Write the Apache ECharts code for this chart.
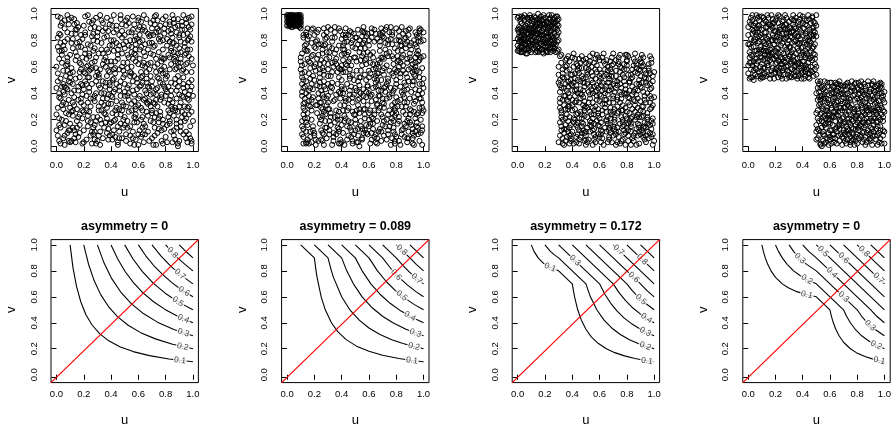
<!DOCTYPE html>
<html><head><meta charset="utf-8">
<script src="https://cdn.jsdelivr.net/npm/echarts@6/dist/echarts.min.js"></script>
<style>html,body{margin:0;padding:0;background:#fff}#c{width:894px;height:428px}</style>
</head><body><div id="c"></div>
<script>
// ---------------- DATA ----------------
const tickValues = [0, 0.2, 0.4, 0.6, 0.8, 1.0];
const panelTitles = ['asymmetry = 0', 'asymmetry = 0.089', 'asymmetry = 0.172', 'asymmetry = 0'];
const xName = 'u', yName = 'v';

// scatter samples, (u, v) in percent units
const sample1Pct = [
[3,97],[15,88],[27,72],[44,91],[58,83],[71,95],[86,78],[93,99],[8,64],[21,55],[36,67],[49,52],[63,61],[77,58],[91,66],[5,41],[18,33],[31,46],[47,38],[62,29],
[74,44],[88,36],[97,48],[2,21],[13,12],[25,18],[39,8],[54,15],[68,4],[82,22],[95,11],[10,3],[33,27],[57,34],[79,13],[99,2],[6,79],[24,94],[41,76],[60,97],
[73,86],[89,91],[12,47],[29,59],[52,69],[66,51],[84,62],[98,73],[4,31],[17,24],[35,14],[50,22],[69,39],[85,28],[1,8],[22,5],[45,3],[61,12],[80,7],[94,19],
[9,92],[19,81],[32,99],[46,84],[55,71],[70,89],[83,94],[96,85],[14,71],[26,63],[38,57],[53,46],[65,68],[78,73],[92,57],[7,53],[20,43],[34,36],[48,27],[59,43],
[72,32],[87,47],[100,38],[11,26],[28,16],[42,19],[56,6],[67,23],[81,16],[90,4],[3,14],[16,7],[37,21],[51,9],[64,17],[76,26],[96,29],[0,60],[23,77],[43,64],
[57,92],[75,81],[85,99],[99,92],[13,96],[30,86],[40,95],[62,75],[79,66],[94,75],[6,45],[19,39],[39,43],[54,56],[68,34],[84,42],[97,24],[10,17],[27,9],[46,11],
[60,1],[74,10],[88,14],[2,37],[15,28],[33,33],[49,31],[63,48],[81,53],[93,44],[8,86],[24,68],[42,80],[58,64],[71,75],[89,70],[4,69],[18,58],[31,52],[44,47],
[66,40],[77,37],[91,33],[12,81],[28,90],[37,73],[51,79],[69,93],[82,87],[97,81],[1,98],[21,98],[36,89],[55,86],[72,98],[86,66],[99,56],[7,25],[25,30],[41,25],
[53,35],[70,27],[83,19],[95,6],[11,4],[29,2],[47,17],[65,9],[78,2],[92,26],[5,76],[17,63],[34,62],[52,59],[67,62],[80,55],[96,63],[14,51],[29,40],[43,55],
[59,51],[73,56],[87,51],[0,44],[20,12],[38,5],[55,27],[71,18],[86,8],[98,15],[9,35],[23,23],[40,32],[58,21],[74,30],[90,39],[3,2],[15,19],[32,11],[48,6],
[64,3],[79,33],[93,52],[6,89],[16,75],[30,79],[45,69],[61,84],[76,91],[90,84],[11,59],[26,47],[43,43],[57,39],[70,49],[84,48],[98,42],[2,72],[19,67],[35,82],
[50,74],[63,88],[78,80],[94,69],[8,10],[22,38],[37,29],[52,14],[66,26],[82,32],[96,36],[13,42],[31,54],[49,63],[62,56],[77,64],[88,59],[4,93],[26,83],[39,92],
[56,98],[68,83],[81,76],[95,96],[10,69],[24,57],[41,50],[56,49],[73,43],[87,29],[1,29],[17,16],[34,6],[47,24],[60,31],[75,21],[91,18],[5,6],[22,27],[38,39],
[53,40],[69,53],[84,72],[99,79],[12,33],[27,36],[44,34],[59,18],[72,14],[85,3],[97,9],[7,61],[21,73],[36,60],[51,91],[65,77],[80,98],[92,91],[15,93],[33,95],
[48,87],[64,71],[77,67],[91,79],[3,51],[18,47],[32,44],[46,58],[61,66],[76,48],[89,45],[100,19],[9,12],[25,8],[42,12],[57,1],[70,6],[83,25],[94,30],[6,39],
[20,31],[35,25],[50,38],[65,42],[80,38],[95,56],[11,78],[28,74],[40,64],[54,80],[69,70],[85,82],[98,88],[2,85],[16,90],[34,70],[47,96],[62,94],[75,87],[89,96],
[10,48],[23,61],[39,48],[55,60],[68,58],[83,58],[97,68],[4,20],[19,2],[33,17],[49,20],[63,14],[77,4],[91,11],[7,32],[24,41],[37,36],[53,26],[67,32],[82,45],
[93,37],[14,65],[29,67],[45,73],[58,77],[73,66],[86,71],[100,61],[1,75],[18,84],[31,89],[48,82],[64,90],[79,85],[94,88],[8,99],[26,93],[42,99],[60,88],[74,95],
[87,90],[12,23],[27,14],[43,7],[56,11],[71,1],[84,11],[96,3],[5,47],[21,49],[37,53],[52,44],[66,48],[81,41],[93,47],[10,55],[25,58],[40,61],[57,53],[72,60],
[87,64],[99,50],[3,84],[15,78],[33,78],[48,70],[61,73],[76,79],[90,74],[6,16],[19,21],[36,24],[51,30],[63,22],[78,17],[92,22],[13,37],[28,34],[42,41],[60,36],
[73,39],[88,42],[0,12],[17,10],[30,4],[45,15],[62,7],[75,13],[89,2],[8,57],[24,52],[38,71],[53,67],[67,73],[82,69],[95,62],[11,97],[29,97],[44,88],[59,81],
[71,84],[84,88],[97,97],[4,63],[20,56],[34,49],[50,54],[64,63],[79,60],[91,63],[2,40],[16,35],[31,30],[46,42],[61,45],[76,35],[94,41],[9,24],[23,19],[40,18],
[54,8],[69,19],[86,23],[99,26],[14,85],[27,80],[42,86],[57,70],[72,92],[86,93],[6,73],[22,66],[39,76],[53,76],[67,85],[83,79],[96,73],[13,6],[26,11],[46,28],
[58,24],[72,22],[88,17],[1,55],[17,52],[32,58],[47,49],[62,52],[75,51],[89,53],[8,43],[24,44],[39,46],[56,42],[70,45],[83,35],[97,30],[3,91],[21,86],[37,83],
[52,97],[66,96],[80,92],[93,84],[12,14],[30,22],[43,20],[58,28],[73,25],[87,27],[5,28],[20,26],[35,40],[50,47],[65,36],[78,47],[90,49],[9,4],[28,5],[41,9],
[2,4],[14,9],[26,2],[38,13],[51,4],[63,9],[77,12],[89,0],[98,6],[7,19],[19,27],[32,20],[44,29],[57,18],[70,25],[82,27],[94,24],[3,36],[16,42],[28,38],
[41,37],[55,32],[68,44],[80,43],[92,38],[9,49],[22,47],[36,45],[50,41],[62,46],[74,52],[87,58],[99,45],[5,57],[18,62],[30,56],[43,59],[56,66],[69,63],[83,67],
[95,70],[12,74],[24,70],[37,64],[49,77],[61,79],[75,71],[88,76],[1,82],[14,88],[27,85],[40,80],[53,93],[65,87],[79,89],[92,94],[6,95],[20,91],[34,93],[47,99],
[60,95],[73,99],[86,96],[97,90],[10,29],[23,33],[35,31],[48,33],[61,38],[73,35],[85,33],[97,39],[4,45],[17,56],[29,49],[42,51],[54,53],[66,56],[78,55],[90,60],
[8,67],[21,70],[33,73],[46,76],[58,73],[71,69],[84,74],[99,66],[11,85],[25,89],[38,87],[50,84],[63,80],[76,83],[90,82],[2,16],[15,14],[27,22],[39,17],[52,19],
[65,15],[78,20],[91,15],[6,8],[20,3],[31,8],[45,1],[58,5],[72,8],[86,12],[99,4],[13,31],[25,36],[38,32],[52,38],[64,35],[77,39],[90,30],[1,49],[16,45],
[29,53],[42,58],[55,55],[67,45],[80,51],[93,58],[8,62],[22,60],[35,65],[48,60],[60,62],[74,62],[87,68],[3,78],[17,79],[30,83],[44,78],[57,80],[70,78],[84,85],
[96,80],[9,96],[23,99],[37,97],[51,95],[64,99],[78,96],[92,88],[11,40],[24,26],[36,18],[49,14],[62,20],[75,18],[88,20],[0,24],[14,3],[28,11],[41,5],[54,2],
[67,11],[81,3],[93,9],[7,44],[19,46],[33,40],[46,45],[59,48],[71,40],[84,38],[97,35],[12,56],[26,59],[39,56],[52,63],[65,60],[78,66],[91,71],[4,72],[18,75],
[31,70],[45,66],[58,69],[72,76],[85,78],[98,83],[13,92],[27,95],[41,91],[56,88],[69,84],[83,92],[95,93],[10,12],[23,15],[37,10],[50,16],[63,27],[76,23],[89,26],
[5,33],[18,36],[31,27],[44,24],[58,30],[71,33],[84,30],[96,45],[10,52],[23,52],[36,48],[49,57],[63,53],[76,57],[89,63],[2,66],[15,68],[28,64],[42,72],[55,75],
[68,78],[81,81],[94,78],[8,81],[21,84],[34,87],[48,92],[61,90],[74,89],[88,86],[99,98],[16,22],[29,19],[43,27],[57,22],[69,30],[83,17],[95,21],[6,1],[32,1],
[46,6],[60,9],[73,1],[87,5],[12,27],[40,38],[66,33],[79,45],[25,76],[53,86]
];

const sample2Pct = [
[1,91],[3,94],[5,97],[7,92],[9,95],[2,99],[4,92],[6,94],[8,98],[10,91],[1,96],[3,90],[5,93],[7,99],[9,92],[2,93],[4,97],[6,91],[8,94],[10,97],
[0,94],[2,96],[4,95],[6,98],[8,91],[1,99],[3,97],[5,91],[7,95],[9,98],[2,91],[4,99],[6,96],[8,93],[10,94],[1,93],[3,92],[5,95],[7,97],[9,90],
[0,97],[3,99],[5,99],[7,93],[9,96],[1,95],[4,94],[6,92],[8,96],[10,99],
[0,91],[2,92],[4,90],[6,93],[8,92],[10,93],[1,94],[3,96],[5,94],[7,96],[9,94],[0,99],[2,98],[4,96],[6,97],[8,99],[10,96],[1,97],[3,95],[5,98],[7,91],[9,99],[2,95],[6,95],[8,97],
[12,84],[25,77],[38,89],[51,82],[64,88],[77,86],[90,89],[98,79],[15,66],[29,71],[43,62],[57,74],[70,67],[84,72],[96,64],[11,52],[24,45],[37,56],[52,49],[66,55],
[80,47],[93,54],[18,35],[31,28],[46,39],[59,31],[73,36],[87,24],[99,33],[14,18],[27,9],[40,16],[55,6],[68,13],[82,4],[95,15],[21,1],[48,2],[62,22],[76,18],
[89,11],[13,73],[33,82],[47,86],[60,76],[74,80],[86,81],[97,87],[20,60],[35,64],[49,67],[63,58],[78,62],[91,59],[16,42],[30,38],[44,47],[58,41],[72,45],[85,39],
[100,44],[12,29],[26,23],[41,27],[54,19],[67,27],[81,30],[94,21],[17,7],[34,4],[50,12],[65,3],[79,9],[92,2],[23,88],[42,78],[56,90],[69,84],[83,76],[95,70],
[19,69],[32,53],[46,58],[61,63],[75,71],[88,66],[11,61],[27,49],[39,40],[53,36],[68,38],[83,52],[97,47],[15,25],[29,31],[43,21],[57,24],[71,29],[86,33],[99,25],
[14,11],[28,14],[45,8],[60,15],[73,5],[88,19],[22,80],[36,73],[52,77],[66,81],[80,89],[93,80],[13,56],[24,58],[40,69],[54,52],[69,50],[81,57],[94,63],[18,47],
[33,44],[48,33],[63,44],[77,40],[90,36],[11,38],[25,33],[38,26],[53,28],[66,19],[79,23],[91,27],[16,2],[31,12],[47,7],[62,10],[76,1],[89,6],[99,12],[20,84],
[30,90],[45,84],[58,83],[72,88],[85,85],[97,83],[14,77],[27,63],[41,73],[55,68],[68,72],[82,65],[95,75],[12,44],[23,40],[37,47],[51,42],[65,48],[78,53],[92,46],
[17,30],[32,22],[47,18],[61,27],[74,24],[87,15],[98,20],[19,15],[36,9],[51,3],[64,7],[78,14],[93,8],[26,70],[39,87],[53,80],[67,65],[79,74],[91,78],[10,89],
[21,57],[34,60],[48,54],[60,57],[73,61],[87,55],[99,59],[13,33],[28,43],[43,36],[56,43],[70,33],[84,41],[96,39],[22,25],[35,18],[49,24],[63,17],[77,31],[90,28],
[15,5],[29,6],[42,1],[57,12],[71,8],[84,12],[97,4],[18,78],[31,67],[44,79],[59,71],[72,78],[87,74],[100,68],[24,52],[41,56],[55,61],[67,46],[80,50],[94,53],
[11,19],[26,28],[39,31],[52,31],[65,35],[79,27],[93,32],[20,10],[37,14],[52,8],[66,2],[81,17],[96,9],[14,86],[28,81],[43,89],[57,86],[71,82],[84,90],[98,88],
[17,63],[31,75],[46,66],[61,69],[74,68],[88,63],[12,50],[27,54],[42,43],[58,50],[71,54],[86,48],[97,52],[19,37],[34,34],[49,39],[62,39],[76,44],[91,41],[13,27],
[28,19],[44,27],[57,21],[70,22],[85,26],[99,29],[23,4],[38,2],[54,15],[69,11],[83,1],[95,18],[16,83],[35,86],[48,75],[62,89],[77,84],[90,76],[11,70],[25,65],
[39,58],[53,71],[67,60],[81,68],[94,67],[16,55],[30,47],[46,51],[59,46],[74,49],[89,58],[14,40],[27,37],[41,40],[56,34],[69,42],[83,45],[98,36],[22,31],[36,27],
[50,20],[64,24],[78,19],[92,13],[12,13],[26,4],[41,10],[55,5],[70,16],[86,7],[99,1],[21,74],[33,79],[50,82],[64,79],[76,90],[89,84],[18,88],[30,62],[45,64],
[58,66],[72,73],[85,69],[96,72],[10,64],[24,48],[38,52],[51,57],[65,53],[79,58],[92,56],[17,44],[32,41],[47,45],[61,38],[75,37],[88,43],[13,21],[27,26],[42,23],
[55,13],[68,29],[82,22],[95,24],[20,8],[33,1],[49,9],[62,5],[77,6],[91,16],[15,72],[29,86],[42,70],[56,78],[70,86],[83,79],[96,82],[26,59],[40,61],[54,65],
[68,63],[82,60],[95,57],[11,47],[23,36],[36,39],[50,44],[64,51],[79,44],[93,49],[18,27],[31,19],[45,29],[60,25],[73,20],[87,30],[100,27],[14,2],[29,14],[44,5],
[59,9],[74,12],[88,3],[22,66],[35,70],[50,74],[63,67],[77,77],[90,70],[12,82],[27,89],[40,81],[55,87],[69,89],[82,83],[94,86],[19,53],[33,56],[47,61],[61,55],
[75,57],[88,52],[99,47],[16,34],[30,33],[45,35],[58,37],[72,41],[86,37],[97,42],[24,22],[39,20],[53,25],[66,32],[80,25],[93,26],[11,9],[25,12],[40,3],[56,10],
[69,4],[84,9],[96,14],[13,76],[26,73],[43,84],[57,80],[73,70],[87,87],[100,80],[21,62],[36,66],[49,50],[63,62],[77,55],[91,65],[10,58],[25,42],[40,45],[54,40],
[67,38],[81,34],[94,34],[15,16],[32,25],[46,14],[60,20],[75,15],[89,21],[17,11],[34,7],[48,4],[63,13],[79,2],[92,6],[23,77],[38,76],[52,88],[65,85],[80,80],
[14,3],[27,1],[39,5],[52,3],[66,6],[79,4],[93,1],[12,24],[25,20],[37,23],[50,17],[63,21],[77,21],[90,18],[16,38],[29,36],[42,31],[56,38],[70,36],[83,35],
[97,29],[11,55],[24,62],[38,59],[51,64],[65,59],[78,66],[92,62],[15,81],[28,77],[41,84],[55,77],[68,79],[82,87],[95,84],[19,12],[32,16],[45,19],[58,16],[72,15],
[86,17],[99,15],[13,45],[26,39],[40,43],[53,41],[67,42],[80,37],[94,43],[18,68],[31,71],[44,69],[57,65],[71,66],[85,61],[98,67],[22,86],[35,90],[48,80],[62,82],
[75,86],[88,79],[12,7],[25,5],[38,11],[52,13],[65,9],[78,11],[92,10],[16,31],[30,28],[43,34],[57,28],[71,32],[84,30],[97,36],[20,50],[33,48],[46,53],[60,52],
[74,51],[87,46],[100,51],[14,72],[27,76],[41,65],[54,74],[68,76],[81,72],[94,77],[19,89],[32,88],[46,87],[59,85],[73,90],[87,82],[11,15],[24,17],[37,20],[50,24],
[64,27],[77,25],[90,24],[13,36],[27,45],[40,50],[53,46],[66,50],[80,56],[93,58],[17,59],[30,58],[44,61],[58,62],[71,59],[84,67],[97,65],[21,79],[35,82],[49,85],
[62,86],[76,81],[89,88],[12,2],[26,10],[39,2],[53,0],[67,11],[80,7],[94,11],[15,21],[28,24],[42,19],[56,28],[69,24],[82,19],[96,25],[19,43],[32,45],[46,42],
[59,45],[73,47],[86,42],[99,40],[10,67],[23,69],[36,62],[50,67],[63,71],[77,68],[90,67],[14,84],[27,84],[41,76],[55,83],[68,85],[82,80],[96,79],[17,51],[30,53],
[43,56],[57,54],[70,57],[83,55],[97,56],[21,5],[34,10],[47,12],[61,2],[74,9],[88,6],[12,32],[25,29],[39,36],[52,35],[66,31],[79,33],[93,37],[16,64],[29,66],
[42,73],[56,70],[69,67],[83,63],[96,69],[20,75],[33,74],[47,78],[60,80],[74,77],[87,77],[100,86],[11,41],[24,33],[38,41],[51,27],[65,45],[78,42],[92,49],[18,20],
[31,9],[44,15],[58,10],[71,19],[85,13],[98,10],[13,62],[27,57],[40,58],[54,57],[67,55],[81,64],[94,60],[22,46],[35,35],[48,37],[62,34],[75,27],[88,33],[15,89],
[29,82],[43,82],[56,86],[70,83],[84,76],[97,89],[21,31],[35,22],[48,26],[61,17],[75,39],[89,49],[14,49],[45,71],[66,62],[38,13],[79,29],[53,52],[91,73],[24,55],
[60,40],[85,57],[33,63],[71,44],[18,3]
];

const sample3Pct = [
[1,72],[4,78],[7,85],[10,91],[13,97],[16,74],[19,81],[22,88],[25,94],[28,71],[2,83],[5,90],[8,96],[11,73],[14,79],[17,86],[20,92],[23,99],[26,77],[29,84],
[3,93],[6,70],[9,76],[12,82],[15,89],[18,95],[21,72],[24,79],[27,85],[30,91],[0,88],[3,75],[6,81],[9,87],[12,94],[15,100],[18,71],[21,78],[24,84],[27,97],
[2,75],[5,82],[8,72],[11,85],[14,92],[17,98],[20,75],[23,82],[26,89],[29,95],[1,79],[4,86],[7,93],[10,80],[13,87],[16,93],[19,70],[22,76],[25,83],[28,90],
[0,97],[3,84],[6,91],[9,97],[12,74],[15,81],[18,87],[21,94],[24,71],[27,78],[30,73],[2,89],[5,95],[8,78],[11,88],[14,72],[17,91],[20,85],[23,73],[26,96],
[29,79],[1,86],[4,71],[7,79],[10,86],[13,76],[16,83],[19,99],[22,93],[25,74],[28,98],[2,94],[5,77],[8,88],[11,96],[14,85],[17,77],[20,80],[23,90],[26,82],
[29,88],[0,76],[3,98],[6,87],[9,83],[12,90],[15,71],[18,79],[21,86],[24,92],[27,74],[30,86],[1,90],[4,81],[7,74],[10,97],[13,84],[16,96],[19,89],[22,80],
[25,99],[28,77],[2,71],[5,87],[8,81],[11,77],[14,95],[17,73],[20,97],[23,86],[26,72],[29,92],[1,98],[4,75],[7,89],[10,75],[13,92],[16,78],[19,84],[22,71],
[24,87],[27,93],[3,80],[6,77],[9,92],[12,78],[15,93],[18,84],[21,82],[25,80],
[1,74],[3,87],[5,73],[7,82],[9,99],[11,80],[13,71],[15,96],[17,81],[19,92],[21,75],[23,96],[25,87],[27,80],[29,72],[0,81],[2,96],[4,84],[6,89],[8,74],
[10,84],[12,98],[14,88],[16,72],[18,92],[20,78],[22,90],[24,75],[26,93],[28,83],[30,96],[1,88],[3,78],[5,99],[7,70],[9,89],[11,92],[13,79],[15,85],[17,95],
[19,76],[21,89],[23,78],[25,91],[27,89],[29,98],[0,72],[2,79],[4,97],[6,73],[8,85],[10,71],[12,86],[14,77],[16,88],[18,73],[20,90],[22,83],[24,97],[26,75],
[28,94],[30,80],[1,83],[3,71],[5,80],[7,97],[9,78],[11,83],[13,90],[15,75],[17,84],[19,96],[21,71],[23,93],[25,77],
[31,68],[36,61],[42,66],[47,59],[53,64],[58,69],[64,62],[69,67],[75,60],[80,65],[86,70],[91,63],[97,68],[33,55],[39,50],[44,57],[50,52],[55,48],[61,55],[67,51],
[72,57],[78,49],[83,54],[89,58],[94,51],[100,56],[32,44],[37,40],[43,46],[48,37],[54,43],[60,39],[65,45],[71,41],[76,36],[82,42],[87,47],[93,38],[98,44],[34,31],
[40,27],[45,33],[51,29],[56,24],[62,32],[68,26],[73,30],[79,23],[84,28],[90,34],[95,25],[31,18],[36,13],[42,20],[47,15],[53,11],[58,19],[64,14],[70,8],[75,17],
[81,12],[86,20],[92,10],[97,16],[33,6],[38,2],[44,9],[49,4],[55,1],[60,7],[66,3],[72,11],[77,5],[83,1],[88,8],[94,3],[99,9],[35,65],[41,70],[46,63],
[52,58],[57,66],[63,70],[68,58],[74,64],[79,69],[85,61],[90,66],[96,59],[30,60],[35,47],[40,54],[46,49],[51,56],[57,41],[62,48],[67,53],[73,46],[78,52],[84,45],
[89,50],[95,46],[31,36],[37,34],[42,38],[48,31],[53,36],[59,28],[65,35],[70,38],[76,27],[81,33],[87,39],[92,30],[98,36],[32,25],[38,22],[43,16],[49,23],[54,18],
[60,21],[66,17],[71,22],[77,15],[82,19],[88,24],[93,18],[99,21],[34,10],[39,6],[45,12],[50,8],[56,5],[61,12],[67,7],[73,3],[78,9],[84,6],[89,2],[95,11],
[30,3],[36,66],[41,60],[47,68],[52,62],[58,56],[63,64],[69,61],[74,67],[80,58],[85,66],[91,69],[96,62],[33,52],[38,58],[44,50],[49,45],[55,53],[60,49],[66,57],
[71,49],[77,54],[82,48],[88,55],[93,52],[99,49],[31,41],[37,45],[42,33],[48,42],[53,39],[59,44],[64,40],[70,33],[75,41],[81,37],[86,43],[92,41],[97,33],[35,28],
[40,31],[46,26],[51,22],[57,30],[62,27],[68,21],[73,25],[79,29],[84,22],[90,27],[95,20],[32,15],[37,19],[43,3],[48,12],[54,15],[59,9],[65,11],[70,15],[76,4],
[81,8],[87,13],[92,7],[98,13],[34,1],[39,9],[45,5],[50,1],[56,9],[61,3],[67,12],[72,1],[78,12],[83,15],[89,11],[94,14],[100,4],[36,57],[41,48],[47,53],
[53,68],[58,61],[64,58],[69,53],[75,69],[80,61],[86,56],[91,60],[97,55],[30,48],[35,38],[40,42],[46,43],[51,47],[57,51],[62,42],[68,45],[73,37],[79,43],[84,39],
[90,45],[95,40],[31,29],[36,24],[42,28],[47,21],[53,26],[58,35],[64,29],[69,24],[75,33],[80,26],[86,31],[91,22],[97,28],[33,20],[38,14],[44,18],[49,27],[55,21],
[60,15],[66,22],[71,18],[77,20],[82,25],[88,17],[93,15],[99,17],[35,4],[40,11],[46,7],[51,14],[57,3],[62,6],[68,10],[74,7],[79,1],[85,4],[90,9],[96,6],
[32,63],[37,68],[43,62],[48,65],[54,60],[59,67],[65,65],[70,62],[76,59],[81,68],[87,62],[92,67],[98,63],[34,51],[39,47],[45,55],[50,59],[56,45],[61,51],[67,48],
[72,53],[78,58],[83,51],[89,47],[94,55],[31,50],[36,42],[42,51],[47,39],[53,45],[58,42],[64,35],[69,43],[75,47],[80,40],[86,34],[91,48],[97,43],[33,35],[38,37],
[44,40],[49,34],[55,29],[60,34],[66,39],[71,28],[77,31],[82,36],[88,29],[93,35],[99,31],[32,22],[37,28],[43,24],[48,17],[54,24],[59,16],[65,19],[70,26],[76,22],
[81,17],[87,22],[92,26],[98,19],[34,13],[39,16],[45,21],[50,11],[56,13],[61,18],[67,14],[72,9],[78,16],[83,11],[89,14],[94,8],[36,7],[41,2],[47,10],[52,5],
[32,69],[38,64],[44,61],[50,66],[56,63],[62,67],[68,64],[74,62],[80,69],[86,64],[92,61],[98,66],[33,58],[39,54],[45,59],[51,54],[57,58],[63,53],[69,56],[75,51],
[81,54],[87,59],[93,57],[99,53],[31,46],[37,49],[43,43],[49,48],[55,40],[61,46],[67,42],[73,49],[79,46],[85,41],[91,44],[97,47],[34,38],[40,35],[46,40],[52,33],
[58,38],[64,32],[70,36],[76,39],[82,31],[88,36],[94,33],[100,37],[32,27],[38,30],[44,25],[50,30],[56,27],[62,24],[68,29],[74,26],[80,21],[86,26],[92,23],[98,29],
[35,16],[41,21],[47,18],[53,16],[59,23],[65,20],[71,13],[77,18],[83,21],[89,16],[95,22],[31,8],[37,11],[43,7],[49,10],[55,12],[61,9],[67,5],[73,14],[79,10],
[85,8],[91,12],[97,10],[33,2],[39,4],[45,2],[51,3],[57,7],[63,1],[69,3],[75,2],[81,4],[87,1],[93,5],[99,1],[36,52],[42,55],[48,51],[54,56],[60,53],
[66,60],[72,65],[78,62],[84,58],[90,53],[96,57],[34,44],[40,46],[46,36],[52,41],[58,46],[64,43],[70,47],[76,44],[82,49],[88,42],[94,48],[31,33],[37,30],[43,34],
[49,29],[55,33],[61,38],[67,33],[73,35],[79,39],[85,35],[91,30],[97,38],[35,21],[41,18],[47,24],[53,19],[59,25],[65,26],[71,20],[77,27],[83,17],[89,22],[95,17],
[32,12],[38,8],[44,14],[50,5],[56,17],[62,11],[68,16],[74,11],[80,14],[86,10],[92,14],[98,7],[36,35],[42,42],[48,48],[54,50],[60,58],[66,48],[72,44],[78,40],
[84,52],[90,57],[96,51],[30,54],[40,67],[50,63],[60,65],[70,70],[80,64],[90,64],[35,60],[45,66],[55,70],[65,54],[75,56]
];

const sample4Pct = [
[2,97],[7,91],[12,86],[17,99],[22,93],[27,88],[32,96],[37,90],[42,85],[47,98],[4,80],[9,75],[14,69],[19,82],[24,76],[29,71],[34,79],[39,74],[44,68],[49,77],
[1,63],[6,58],[11,52],[16,65],[21,59],[26,54],[31,62],[36,57],[41,51],[46,60],[3,88],[8,83],[13,94],[18,89],[23,84],[28,97],[33,92],[38,81],[43,95],[48,87],
[5,72],[10,67],[15,78],[20,72],[25,66],[30,80],[35,70],[40,64],[45,79],[0,55],[4,50],[9,60],[14,56],[19,51],[24,62],[29,57],[34,53],[39,59],[44,55],[49,62],
[3,99],[8,95],[13,90],[18,84],[23,98],[28,92],[33,87],[38,99],[43,91],[48,94],[1,77],[6,84],[11,79],[16,73],[21,68],[26,81],[31,75],[36,66],[41,78],[46,72],
[2,69],[7,64],[12,59],[17,54],[22,52],[27,63],[32,58],[37,53],[42,61],[47,56],[5,93],[10,98],[15,92],[20,87],[25,91],[30,86],[35,97],[40,93],[45,88],[50,83],
[4,75],[9,70],[14,81],[19,77],[24,71],[29,66],[34,84],[39,69],[44,74],[49,69],[0,61],[5,54],[10,57],[15,61],[20,56],[25,51],[30,68],[35,61],[40,56],[45,51],
[3,85],[8,89],[13,82],[18,96],[23,90],[28,85],[33,99],[38,88],[43,82],[48,90],[2,58],[7,53],[12,66],[17,70],[22,65],[27,75],[32,71],[37,77],[42,72],[47,65],
[6,99],[11,93],[16,88],[21,83],[26,95],[31,89],[36,83],[41,96],[46,84],[1,71],[6,66],[11,72],[16,76],[21,79],[26,70],[31,64],[36,74],[41,69],[46,78],[3,52],
[8,56],[13,53],[18,59],[23,55],[28,51],[33,65],[38,62],[43,58],[48,53],[0,90],[5,86],[10,82],[15,97],[20,95],[25,85],[30,94],[35,89],[40,84],[45,96],[50,91],
[4,64],[9,68],[14,63],[19,66],[24,59],[29,54],[34,60],[39,55],[44,63],[49,58],[2,81],[7,78],[12,74],[17,80],[22,86],[27,81],[32,78],[37,94],[42,80],[47,83],
[1,94],[6,89],[11,97],[16,92],[21,97],[26,90],[31,83],[36,78],[41,89],[46,93],[3,61],[8,73],[13,77],[18,71],[23,64],[28,60],[33,73],[38,67],[43,77],[48,70],
[5,66],[10,62],[15,68],[20,62],[25,57],[30,52],[35,56],[40,75],[45,66],[50,54],
[2,52],[12,55],[22,74],[32,52],[42,53],[7,97],[17,57],[27,99],[37,63],[47,97],[4,91],[14,99],[24,88],[34,95],[44,60],[9,51],[19,93],[29,77],[39,51],[49,86],
[1,51],[6,62],[11,59],[16,51],[21,63],[26,59],[31,53],[36,51],[41,64],[46,57],[3,68],[8,79],[13,72],[18,66],[23,80],[28,73],[33,68],[38,78],[43,70],[48,75],
[0,84],[5,81],[10,88],[15,83],[20,80],[25,94],[30,90],[35,85],[40,98],[45,83],[50,99],[2,92],[7,86],[12,95],[17,91],[22,99],[27,92],[32,86],[37,83],[42,92],
[47,89],[4,57],[9,53],[14,61],[19,55],[24,53],[29,61],[34,64],[39,57],[44,52],[49,66],[2,75],[7,70],[12,78],[17,74],[22,70],[27,67],[32,82],[37,72],[42,67],
[47,74],[3,95],[8,91],[13,86],[18,93],[23,88],[28,82],[33,95],[38,92],[43,87],[48,81],[1,67],[6,72],[11,65],[16,69],[21,74],[26,64],[31,69],[36,62],[41,59],
[46,67],[5,59],[10,52],[15,54],[20,58],[25,62],[30,56],[35,53],[40,61],[45,55],[50,60],[4,87],[9,84],[14,90],[19,87],[24,82],[29,88],[34,90],[39,86],[44,99],
[49,93],[0,77],[5,79],[10,73],[15,71],[20,68],[25,78],[30,75],[35,80],[40,71],[45,76],[2,63],[12,69],[22,57],[32,63],[42,56],[8,98],[18,80],[28,86],[38,96],
[48,84],[14,66],[24,67],[34,57],[44,80],
[52,47],[57,41],[62,36],[67,49],[72,43],[77,38],[82,46],[87,40],[92,35],[97,48],[54,30],[59,25],[64,19],[69,32],[74,26],[79,21],[84,29],[89,24],[94,18],[99,27],
[51,13],[56,8],[61,2],[66,15],[71,9],[76,4],[81,12],[86,7],[91,1],[96,10],[53,38],[58,33],[63,44],[68,39],[73,34],[78,47],[83,42],[88,31],[93,45],[98,37],
[55,22],[60,17],[65,28],[70,22],[75,16],[80,30],[85,20],[90,14],[95,29],[50,5],[54,0],[59,10],[64,6],[69,1],[74,12],[79,7],[84,3],[89,9],[94,5],[99,12],
[53,49],[58,45],[63,40],[68,34],[73,48],[78,42],[83,37],[88,49],[93,41],[98,44],[51,27],[56,34],[61,29],[66,23],[71,18],[76,31],[81,25],[86,16],[91,28],[96,22],
[52,19],[57,14],[62,9],[67,4],[72,2],[77,13],[82,8],[87,3],[92,11],[97,6],[55,43],[60,48],[65,42],[70,37],[75,41],[80,36],[85,47],[90,43],[95,38],[100,33],
[54,25],[59,20],[64,31],[69,27],[74,21],[79,16],[84,34],[89,19],[94,24],[99,19],[50,11],[55,4],[60,7],[65,11],[70,6],[75,1],[80,18],[85,11],[90,6],[95,1],
[53,35],[58,39],[63,32],[68,46],[73,40],[78,35],[83,49],[88,38],[93,32],[98,40],[52,8],[57,3],[62,16],[67,20],[72,15],[77,25],[82,21],[87,27],[92,22],[97,15],
[56,49],[61,43],[66,38],[71,33],[76,45],[81,39],[86,33],[91,46],[96,34],[51,21],[56,16],[61,22],[66,26],[71,29],[76,20],[81,14],[86,24],[91,19],[96,28],[53,2],
[58,6],[63,3],[68,9],[73,5],[78,1],[83,15],[88,12],[93,8],[98,2],[50,40],[55,36],[60,32],[65,47],[70,45],[75,35],[80,44],[85,39],[90,34],[95,46],[100,41],
[54,14],[59,18],[64,13],[69,16],[74,9],[79,4],[84,10],[89,5],[94,13],[99,8],[52,31],[57,27],[62,23],[67,29],[72,24],[77,19],[82,33],[87,29],[92,26],[97,31],
[51,44],[56,39],[61,48],[66,44],[71,39],[76,49],[81,43],[86,45],[91,38],[96,43],[53,24],[58,29],[63,26],[68,19],[73,13],[78,28],[83,23],[88,18],[93,27],[98,24],
[55,9],[60,12],[65,2],[70,12],[75,7],[80,2],[85,5],[90,10],[95,15],[100,11],
[52,37],[62,41],[72,47],[82,35],[92,49],[57,21],[67,13],[77,9],[87,21],[97,20],[54,45],[64,37],[74,30],[84,26],[94,33],[59,1],[69,7],[79,13],[89,41],[99,35],
[51,49],[56,44],[61,40],[66,47],[71,46],[76,42],[81,48],[86,42],[91,47],[96,40],[53,32],[58,27],[63,22],[68,29],[73,31],[78,26],[83,31],[88,26],[93,21],[98,29],
[50,16],[55,11],[60,5],[65,14],[70,10],[75,3],[80,9],[85,14],[90,4],[95,8],[100,2],[52,41],[57,36],[62,45],[67,41],[72,36],[77,44],[82,40],[87,36],[92,42],
[97,45],[54,19],[59,23],[64,26],[69,21],[74,18],[79,23],[84,18],[89,29],[94,26],[99,22],[51,6],[56,2],[61,12],[66,8],[71,4],[76,10],[81,6],[86,1],[91,8],
[96,3],[53,44],[58,48],[63,37],[68,43],[73,45],[78,39],[83,45],[88,46],[93,37],[98,47],[55,28],[60,24],[65,33],[70,29],[75,24],[80,28],[85,25],[90,21],[95,31],
[100,26],[52,12],[57,17],[62,6],[67,16],[72,11],[77,5],[82,16],[87,10],[92,16],[97,12],[54,38],[59,35],[64,48],[69,40],[74,36],[79,48],[84,41],[89,36],[94,42],
[99,38],[50,25],[55,18],[60,20],[65,24],[70,17],[75,29],[80,23],[85,18],[90,27],[95,19],[51,35],[61,31],[71,26],[81,20],[91,13],[56,23],[66,34],[76,14],[86,30],
[96,47],[53,1],[63,9],[73,20],[83,7]
];

// contour lines: [level, [[u, v], ...]]
const contours1 = [
[0.1, [[0.1,1],[0.121,0.825],[0.147,0.681],[0.178,0.562],[0.215,0.464],[0.261,0.383],[0.316,0.316],[0.383,0.261],[0.464,0.215],[0.562,0.178],[0.681,0.147],[0.825,0.121],[1,0.1]]],
[0.2, [[0.2,1],[0.235,0.851],[0.276,0.725],[0.324,0.617],[0.381,0.525],[0.447,0.447],[0.525,0.381],[0.617,0.324],[0.725,0.276],[0.851,0.235],[1,0.2]]],
[0.3, [[0.3,1],[0.349,0.86],[0.405,0.74],[0.471,0.637],[0.548,0.548],[0.637,0.471],[0.74,0.405],[0.86,0.349],[1,0.3]]],
[0.4, [[0.4,1],[0.449,0.892],[0.503,0.795],[0.564,0.709],[0.632,0.632],[0.709,0.564],[0.795,0.503],[0.892,0.449],[1,0.4]]],
[0.5, [[0.5,1],[0.561,0.891],[0.63,0.794],[0.707,0.707],[0.794,0.63],[0.891,0.561],[1,0.5]]],
[0.6, [[0.6,1],[0.653,0.918],[0.711,0.843],[0.775,0.775],[0.843,0.711],[0.918,0.653],[1,0.6]]],
[0.7, [[0.7,1],[0.765,0.915],[0.837,0.837],[0.915,0.765],[1,0.7]]],
[0.8, [[0.8,1],[0.846,0.946],[0.894,0.894],[0.946,0.846],[1,0.8]]],
[0.9, [[0.9,1],[0.949,0.949],[1,0.9]]]
];
const contours2 = [
[0.1, [[0.1,1],[0.2,0.9],[0.2125,0.8],[0.22,0.75],[0.25,0.6],[0.28,0.5],[0.325,0.4],[0.373,0.33],[0.433,0.27],[0.509,0.22],[0.6,0.18],[0.7,0.15],[0.82,0.125],[0.918,0.11],[1,0.1]]],
[0.2, [[0.2,1],[0.3,0.9],[0.325,0.8],[0.34,0.75],[0.4,0.6],[0.46,0.5],[0.529,0.42],[0.6,0.36],[0.681,0.31],[0.767,0.27],[0.85,0.24],[0.918,0.22],[1,0.2]]],
[0.3, [[0.3,1],[0.4,0.9],[0.4375,0.8],[0.486,0.7],[0.55,0.6],[0.619,0.52],[0.7,0.45],[0.775,0.4],[0.871,0.35],[1,0.3]]],
[0.4, [[0.4,1],[0.5,0.9],[0.55,0.8],[0.614,0.7],[0.681,0.62],[0.755,0.55],[0.835,0.49],[0.918,0.44],[1,0.4]]],
[0.5, [[0.5,1],[0.6,0.9],[0.6625,0.8],[0.725,0.72],[0.792,0.65],[0.863,0.59],[0.933,0.54],[1,0.5]]],
[0.6, [[0.6,1],[0.7,0.9],[0.759,0.82],[0.82,0.75],[0.883,0.69],[0.944,0.64],[1,0.6]]],
[0.7, [[0.7,1],[0.8,0.9],[0.85,0.84],[0.897,0.79],[0.951,0.74],[1,0.7]]],
[0.8, [[0.8,1],[0.9,0.9],[0.947,0.85],[1,0.8]]],
[0.9, [[0.9,1],[1,0.9]]]
];
const contours3 = [
[0.1, [[0.1,1],[0.12,0.95],[0.15,0.9],[0.1875,0.86],[0.231,0.83],[0.3,0.8],[0.4,0.7],[0.417,0.6],[0.44,0.5],[0.467,0.42],[0.5,0.35],[0.541,0.29],[0.592,0.24],[0.65,0.2],[0.712,0.17],[0.783,0.145],[0.86,0.125],[0.936,0.11],[1,0.1]]],
[0.2, [[0.2,1],[0.24,0.95],[0.267,0.925],[0.3,0.9],[0.5,0.7],[0.533,0.6],[0.58,0.5],[0.633,0.42],[0.689,0.36],[0.752,0.31],[0.819,0.27],[0.883,0.24],[0.936,0.22],[1,0.2]]],
[0.3, [[0.3,1],[0.6,0.7],[0.639,0.62],[0.682,0.55],[0.729,0.49],[0.777,0.44],[0.838,0.39],[0.9,0.35],[0.956,0.32],[1,0.3]]],
[0.4, [[0.4,1],[0.7,0.7],[0.744,0.63],[0.791,0.57],[0.838,0.52],[0.896,0.47],[0.951,0.43],[1,0.4]]],
[0.5, [[0.5,1],[0.8,0.7],[0.838,0.65],[0.883,0.6],[0.936,0.55],[1,0.5]]],
[0.6, [[0.6,1],[0.9,0.7],[0.946,0.65],[1,0.6]]],
[0.7, [[0.7,1],[1,0.7]]],
[0.8, [[0.8,1],[1,0.8]]],
[0.9, [[0.9,1],[1,0.9]]]
];
const contours4 = [
[0.1, [[0.1,1],[0.111,0.95],[0.125,0.9],[0.143,0.85],[0.167,0.8],[0.2,0.75],[0.25,0.7],[0.294,0.67],[0.357,0.64],[0.417,0.62],[0.5,0.6],[0.6,0.5],[0.611,0.45],[0.625,0.4],[0.643,0.35],[0.667,0.3],[0.7,0.25],[0.75,0.2],[0.794,0.17],[0.857,0.14],[0.917,0.12],[1,0.1]]],
[0.2, [[0.2,1],[0.222,0.95],[0.25,0.9],[0.286,0.85],[0.333,0.8],[0.385,0.76],[0.435,0.73],[0.5,0.7],[0.7,0.5],[0.722,0.45],[0.75,0.4],[0.786,0.35],[0.833,0.3],[0.885,0.26],[0.935,0.23],[1,0.2]]],
[0.3, [[0.3,1],[0.333,0.95],[0.375,0.9],[0.429,0.85],[0.5,0.8],[0.8,0.5],[0.833,0.45],[0.875,0.4],[0.929,0.35],[1,0.3]]],
[0.4, [[0.4,1],[0.444,0.95],[0.5,0.9],[0.9,0.5],[0.944,0.45],[1,0.4]]],
[0.5, [[0.5,1],[1,0.5]]],
[0.6, [[0.6,1],[1,0.6]]],
[0.7, [[0.7,1],[1,0.7]]],
[0.8, [[0.8,1],[1,0.8]]],
[0.9, [[0.9,1],[1,0.9]]]
];

// contour labels: [level, u, v]
const labels1 = [[0.1,0.905,0.11],[0.2,0.925,0.216],[0.3,0.93,0.323],[0.4,0.93,0.43],[0.5,0.89,0.562],[0.6,0.935,0.642],[0.7,0.905,0.774],[0.8,0.85,0.94]];
const labels2 = [[0.1,0.915,0.11],[0.2,0.93,0.217],[0.3,0.94,0.32],[0.4,0.9,0.45],[0.5,0.84,0.608],[0.6,0.8,0.77],[0.7,0.95,0.74],[0.8,0.84,0.96]];
const labels3 = [[0.1,0.238,0.826],[0.1,0.948,0.106],[0.2,0.935,0.22],[0.3,0.42,0.88],[0.3,0.936,0.33],[0.4,0.944,0.435],[0.5,0.903,0.58],[0.6,0.85,0.75],[0.7,0.74,0.96],[0.8,0.912,0.888]];
const labels4 = [[0.1,0.43,0.616],[0.1,0.963,0.108],[0.2,0.43,0.733],[0.2,0.94,0.227],[0.3,0.38,0.895],[0.3,0.7,0.6],[0.3,0.895,0.38],[0.4,0.614,0.786],[0.5,0.55,0.95],[0.6,0.7,0.9],[0.7,0.957,0.743],[0.8,0.85,0.95]];

// abline(0, 1) across the whole plotting region
const diagonal = [[-0.04,-0.04],[1.04,1.04]];

// ---------------- LAYOUT / STYLE ----------------
const FONT = '"Liberation Sans", Arial, Helvetica, sans-serif';
const COL_LEFT = [51, 281.6, 512.2, 742.8];
const BOX_W = 147.4, BOX_H = 143;
const ROW_TOP = [8.5, 239.6];
const PAD = 0.04;                 // R's 4% axis expansion
const UX = BOX_W / (1 + 2 * PAD), UY = BOX_H / (1 + 2 * PAD);

const samples = [sample1Pct, sample2Pct, sample3Pct, sample4Pct];
const contours = [contours1, contours2, contours3, contours4];
const labels = [labels1, labels2, labels3, labels4];
const yTicksUpper = tickValues.filter(t => t > 0);
const yTicksLowest = tickValues.filter(t => t === 0);

const grids = [], xAxes = [], yAxes = [], series = [], titles = [];
// data grids (0..7), value range 0..1
for (let r = 0; r < 2; r++) {
  for (let c = 0; c < 4; c++) {
    const gi = r * 4 + c;
    grids.push({left: COL_LEFT[c] + PAD * UX, top: ROW_TOP[r] + PAD * UY, width: UX, height: UY, show: false, containLabel: false});
    xAxes.push({type: 'value', gridIndex: gi, min: 0, max: 1, interval: 0.2, offset: PAD * UY,
      axisLine: {show: false}, splitLine: {show: false},
      axisTick: {show: true, length: 5, lineStyle: {color: '#000', width: 1}},
      axisLabel: {formatter: v => v.toFixed(1), fontSize: 9.5, margin: 9, color: '#000', fontFamily: FONT},
      name: xName, nameLocation: 'middle', nameGap: 34, nameTextStyle: {fontSize: 13, color: '#000', fontFamily: FONT}});
    yAxes.push({type: 'value', gridIndex: gi, min: 0, max: 1, interval: 0.2, offset: PAD * UX,
      axisLine: {show: false}, splitLine: {show: false},
      axisTick: {show: true, length: 5, customValues: yTicksUpper, lineStyle: {color: '#000', width: 1}},
      axisLabel: {formatter: v => v.toFixed(1), fontSize: 9.5, margin: 12, rotate: 90, color: '#000', fontFamily: FONT},
      name: yName, nameLocation: 'middle', nameGap: 33, nameRotate: 90, nameTextStyle: {fontSize: 13, color: '#000', fontFamily: FONT}});
  }
}
// box grids (8..15): frame of the expanded range, abline, and the lowest y tick
for (let r = 0; r < 2; r++) {
  for (let c = 0; c < 4; c++) {
    const gi = 8 + r * 4 + c;
    grids.push({left: COL_LEFT[c], top: ROW_TOP[r], width: BOX_W, height: BOX_H, show: true,
      borderColor: '#000', borderWidth: 1, backgroundColor: 'transparent'});
    xAxes.push({type: 'value', gridIndex: gi, show: false, min: -PAD, max: 1 + PAD});
    yAxes.push({type: 'value', gridIndex: gi, show: true, min: -PAD, max: 1 + PAD,
      axisLine: {show: false}, splitLine: {show: false}, axisLabel: {show: false},
      axisTick: {show: true, length: 5, customValues: yTicksLowest, lineStyle: {color: '#000', width: 1}}});
  }
}

function labelAngle(pts, u, v) {
  let best = [1, 0], bd = Infinity;
  for (let k = 0; k < pts.length - 1; k++) {
    const ax = (pts[k+1][0] - pts[k][0]) * UX, ay = (pts[k+1][1] - pts[k][1]) * UY;
    const bx = (u - pts[k][0]) * UX, by = (v - pts[k][1]) * UY;
    const L = ax*ax + ay*ay;
    let t = L ? (ax*bx + ay*by) / L : 0; t = Math.max(0, Math.min(1, t));
    const dx = bx - t*ax, dy = by - t*ay, d = dx*dx + dy*dy;
    if (d < bd) { bd = d; best = [ax, ay]; }
  }
  let [ax, ay] = best; if (ax < 0) { ax = -ax; ay = -ay; }
  return Math.atan2(ay, ax) * 180 / Math.PI;
}

for (let c = 0; c < 4; c++) {
  series.push({type: 'scatter', xAxisIndex: c, yAxisIndex: c, silent: true, animation: false, clip: false,
    symbol: 'circle', symbolSize: 5,
    itemStyle: {color: 'rgba(0,0,0,0)', borderColor: '#000', borderWidth: 1, opacity: 1},
    data: samples[c].map(p => [p[0] / 100, p[1] / 100]), z: 2});
  const gi = 4 + c;
  contours[c].forEach(([lev, pts]) => {
    series.push({type: 'line', xAxisIndex: gi, yAxisIndex: gi, silent: true, animation: false, clip: false,
      symbol: 'none', showSymbol: false, lineStyle: {color: '#000', width: 1.1}, data: pts, z: 2});
  });
  series.push({type: 'scatter', xAxisIndex: gi, yAxisIndex: gi, silent: true, animation: false, clip: false,
    symbolSize: 1, itemStyle: {color: 'rgba(0,0,0,0)'}, z: 3,
    label: {show: true, position: 'inside', formatter: '{b}', fontSize: 8.5, color: '#111', fontFamily: FONT,
      backgroundColor: '#fff', padding: [0, 1]},
    data: labels[c].map(([lev, u, v]) => {
      const line = contours[c].find(cc => cc[0] === lev)[1];
      return {name: lev.toFixed(1), value: [u, v], label: {rotate: labelAngle(line, u, v)}};
    })});
  series.push({type: 'line', xAxisIndex: 8 + gi, yAxisIndex: 8 + gi, silent: true, animation: false,
    symbol: 'none', showSymbol: false, lineStyle: {color: '#ff0000', width: 1.2}, data: diagonal, z: 5});
  titles.push({text: panelTitles[c], left: COL_LEFT[c] + BOX_W / 2, top: 220, textAlign: 'center', padding: 0,
    textStyle: {fontSize: 12.5, fontWeight: 'bold', color: '#000', fontFamily: FONT}});
}

const chart = echarts.init(document.getElementById('c'), null, {renderer: 'canvas'});
chart.setOption({animation: false, backgroundColor: '#fff', textStyle: {fontFamily: FONT},
  title: titles, grid: grids, xAxis: xAxes, yAxis: yAxes, series: series});
</script></body></html>
